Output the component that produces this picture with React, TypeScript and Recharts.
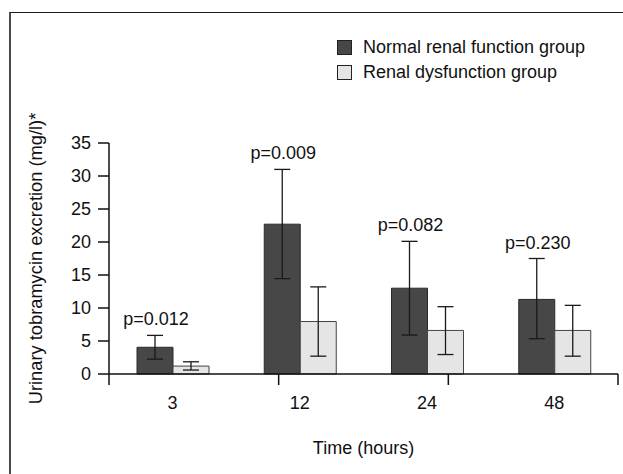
import { Bar, BarChart, ErrorBar, Label, LabelList, Legend, XAxis, YAxis } from "recharts";

const times = ["3", "12", "24", "48"];
const normalMean = [4.05, 22.7, 13.0, 11.3];
const normalLow = [2.25, 14.45, 5.9, 5.35];
const normalHigh = [5.85, 31.0, 20.1, 17.5];
const dysMean = [1.2, 7.95, 6.6, 6.6];
const dysLow = [0.6, 2.7, 2.95, 2.7];
const dysHigh = [1.85, 13.2, 10.2, 10.4];
const pValues = ["p=0.012", "p=0.009", "p=0.082", "p=0.230"];
const yTicks = [0, 5, 10, 15, 20, 25, 30, 35];
const bounds = [0, 1, 2, 3, 4];

const data = times.map((t, i) => ({
  time: t,
  normal: normalMean[i],
  normalErr: [normalMean[i] - normalLow[i], normalHigh[i] - normalMean[i]],
  dys: dysMean[i],
  dysErr: [dysMean[i] - dysLow[i], dysHigh[i] - dysMean[i]],
}));

const font = "'Liberation Sans', Arial, sans-serif";
const ink = "#111";
const fs = 18;

function PLabel(props: any) {
  const { x, y, width, height, index } = props;
  // find top of the error bar from the bar's own pixel scale
  const perUnit = height / normalMean[index];
  const errTop = y - (normalHigh[index] - normalMean[index]) * perUnit;
  return (
    <text x={x + width / 2 + 1} y={errTop - 10} textAnchor="middle" fontSize={fs} fontFamily={font} fill={ink}>
      {pValues[index]}
    </text>
  );
}

function LegendBox(props: any) {
  const { payload } = props;
  return (
    <div style={{ fontFamily: font, fontSize: fs, color: ink }}>
      {(payload || []).map((p: any) => (
        <div key={p.value} style={{ display: "flex", alignItems: "center", height: 25 }}>
          <span
            style={{
              width: 13,
              height: 13,
              background: p.payload.fill,
              border: "1px solid #222",
              marginRight: 11,
              display: "inline-block",
            }}
          />
          <span>{p.value}</span>
        </div>
      ))}
    </div>
  );
}

export default function App() {
  return (
    <div style={{ position: "absolute", left: 0, top: 0, width: 623, height: 474, background: "#fff", overflow: "hidden" }}>
      <div
        style={{
          position: "absolute",
          left: 9,
          top: 12,
          width: 700,
          height: 600,
          borderLeft: "2px solid #4a4a4a",
          borderTop: "1.5px solid #1a1a1a",
        }}
      />
      <div style={{ position: "absolute", left: 0, top: 0 }}>
        <BarChart width={623} height={474} data={data} barGap={0} barSize={36} margin={{ top: 143, right: 5, bottom: 69, left: 29 }}>
          <XAxis
            xAxisId="b"
            dataKey="time"
            height={30}
            tickSize={0}
            tickMargin={21}
            axisLine={false}
            tickLine={false}
            tick={{ fill: ink, fontSize: fs, fontFamily: font }}
          >
            <Label value="Time (hours)" position="bottom" offset={36} fill={ink} fontSize={fs} fontFamily={font} />
          </XAxis>
          <XAxis
            xAxisId="a"
            type="number"
            domain={[0, 4]}
            ticks={bounds}
            height={1}
            tickSize={11}
            tickFormatter={() => ""}
            axisLine={{ stroke: ink, strokeWidth: 1.5 }}
            tickLine={{ stroke: ink, strokeWidth: 1.5 }}
          />
          <YAxis
            width={80}
            domain={[0, 35]}
            ticks={yTicks}
            tickSize={11}
            tickMargin={7}
            axisLine={{ stroke: ink, strokeWidth: 1.5 }}
            tickLine={{ stroke: ink, strokeWidth: 1.5 }}
            tick={{ fill: ink, fontSize: fs, fontFamily: font }}
          >
            <Label
              value="Urinary tobramycin excretion (mg/l)*"
              angle={-90}
              position="insideLeft"
              offset={7}
              fill={ink}
              fontSize={18.3}
              fontFamily={font}
              style={{ textAnchor: "middle" }}
            />
          </YAxis>
          <Legend
            layout="vertical"
            align="center"
            verticalAlign="middle"
            wrapperStyle={{ top: 35, left: 337, width: 285 }}
            content={<LegendBox />}
          />
          <Bar xAxisId="b" dataKey="normal" name="Normal renal function group" fill="#474747" stroke="#2a2a2a" strokeWidth={1} isAnimationActive={false}>
            <ErrorBar dataKey="normalErr" direction="y" width={8} stroke="#1a1a1a" strokeWidth={1.3} />
            <LabelList dataKey="normal" content={<PLabel />} />
          </Bar>
          <Bar xAxisId="b" dataKey="dys" name="Renal dysfunction group" fill="#e4e5e4" stroke="#444" strokeWidth={1} isAnimationActive={false}>
            <ErrorBar dataKey="dysErr" direction="y" width={8} stroke="#1a1a1a" strokeWidth={1.3} />
          </Bar>
        </BarChart>
      </div>
    </div>
  );
}
